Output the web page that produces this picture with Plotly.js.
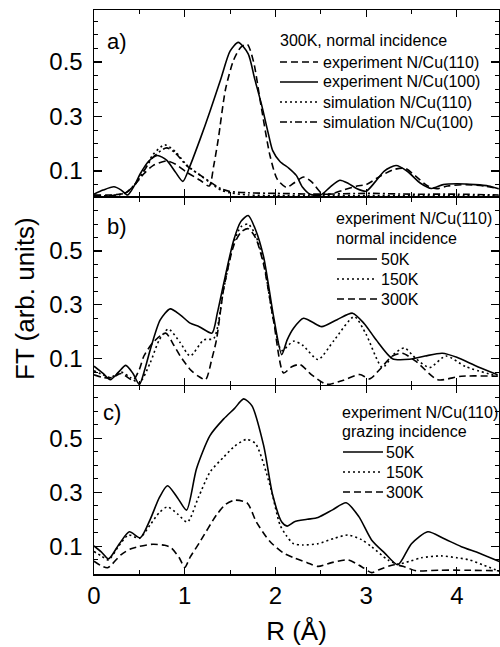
<!DOCTYPE html>
<html><head><meta charset="utf-8">
<script src="https://cdn.plot.ly/plotly-3.0.1.min.js"></script>
<style>html,body{margin:0;padding:0;background:#fff}#chart{width:500px;height:647px}</style>
</head><body><div id="chart"></div>
<script>
// ---------- Panel a) 300K, normal incidence ----------
const aExp110X = [0, 0.2, 0.35, 0.45, 0.55, 0.65, 0.8, 0.9, 1.02, 1.17, 1.27, 1.32, 1.37, 1.45, 1.54, 1.62, 1.69, 1.76, 1.83, 1.94, 2.02, 2.12, 2.2, 2.31, 2.4, 2.51, 2.6, 2.75, 2.9, 3.0, 3.15, 3.3, 3.43, 3.55, 3.68, 3.78, 3.9, 4.1, 4.3, 4.46];
const aExp110Y = [0.012, 0.012, 0.02, 0.05, 0.09, 0.12, 0.137, 0.125, 0.096, 0.066, 0.045, 0.12, 0.217, 0.40, 0.508, 0.555, 0.565, 0.5, 0.363, 0.157, 0.07, 0.04, 0.055, 0.078, 0.06, 0.018, 0.015, 0.03, 0.045, 0.05, 0.08, 0.105, 0.11, 0.08, 0.045, 0.035, 0.045, 0.05, 0.045, 0.035];
const aExp100X = [0, 0.1, 0.22, 0.3, 0.37, 0.45, 0.51, 0.6, 0.7, 0.8, 0.9, 0.98, 1.06, 1.17, 1.28, 1.4, 1.5, 1.59, 1.7, 1.77, 1.85, 1.92, 1.97, 2.05, 2.15, 2.23, 2.3, 2.38, 2.5, 2.6, 2.71, 2.8, 2.9, 3.0, 3.1, 3.2, 3.33, 3.45, 3.6, 3.72, 3.85, 4.0, 4.2, 4.35, 4.46];
const aExp100Y = [0.015, 0.03, 0.042, 0.03, 0.012, 0.05, 0.09, 0.135, 0.157, 0.14, 0.095, 0.062, 0.12, 0.217, 0.32, 0.44, 0.54, 0.572, 0.53, 0.44, 0.34, 0.24, 0.175, 0.135, 0.11, 0.084, 0.04, 0.015, 0.012, 0.04, 0.066, 0.055, 0.035, 0.026, 0.06, 0.1, 0.12, 0.1, 0.055, 0.036, 0.05, 0.053, 0.05, 0.045, 0.035];
const aSim110X = [0, 0.2, 0.35, 0.45, 0.55, 0.65, 0.78, 0.9, 1.02, 1.17, 1.28, 1.4, 1.5, 1.7, 2.0, 2.5, 3.0, 3.5, 4.0, 4.46];
const aSim110Y = [0.01, 0.01, 0.02, 0.05, 0.1, 0.16, 0.196, 0.17, 0.123, 0.084, 0.057, 0.03, 0.02, 0.012, 0.01, 0.01, 0.01, 0.01, 0.01, 0.01];
const aSim100X = [0, 0.2, 0.35, 0.45, 0.55, 0.65, 0.8, 0.9, 1.02, 1.17, 1.28, 1.4, 1.5, 1.7, 2.0, 2.5, 3.0, 3.5, 4.0, 4.46];
const aSim100Y = [0.01, 0.01, 0.02, 0.05, 0.1, 0.15, 0.185, 0.165, 0.12, 0.085, 0.06, 0.035, 0.025, 0.02, 0.018, 0.015, 0.018, 0.015, 0.015, 0.012];

// ---------- Panel b) experiment N/Cu(110), normal incidence ----------
const b50X = [0, 0.1, 0.18, 0.27, 0.35, 0.43, 0.5, 0.56, 0.62, 0.73, 0.84, 0.95, 1.06, 1.16, 1.3, 1.36, 1.43, 1.54, 1.62, 1.70, 1.78, 1.87, 1.98, 2.07, 2.13, 2.2, 2.31, 2.41, 2.51, 2.68, 2.85, 2.98, 3.11, 3.29, 3.48, 3.65, 3.84, 4.0, 4.2, 4.45];
const b50Y = [0.072, 0.045, 0.022, 0.05, 0.075, 0.045, 0.004, 0.06, 0.133, 0.244, 0.285, 0.263, 0.232, 0.219, 0.195, 0.27, 0.38, 0.54, 0.61, 0.632, 0.58, 0.478, 0.256, 0.115, 0.17, 0.213, 0.25, 0.235, 0.219, 0.245, 0.269, 0.23, 0.17, 0.1, 0.098, 0.11, 0.12, 0.105, 0.075, 0.04];
const b150X = [0, 0.1, 0.18, 0.3, 0.4, 0.5, 0.62, 0.72, 0.82, 0.95, 1.06, 1.21, 1.32, 1.43, 1.54, 1.62, 1.70, 1.78, 1.87, 1.98, 2.07, 2.2, 2.3, 2.47, 2.65, 2.87, 3.0, 3.18, 3.3, 3.42, 3.55, 3.7, 3.88, 4.1, 4.45];
const b150Y = [0.055, 0.04, 0.03, 0.05, 0.03, 0.01, 0.085, 0.17, 0.21, 0.16, 0.11, 0.17, 0.175, 0.36, 0.53, 0.59, 0.6, 0.56, 0.46, 0.24, 0.13, 0.165, 0.15, 0.097, 0.17, 0.256, 0.19, 0.067, 0.115, 0.14, 0.1, 0.067, 0.11, 0.07, 0.035];
const b300X = [0, 0.1, 0.2, 0.3, 0.43, 0.5, 0.55, 0.65, 0.79, 0.88, 0.95, 1.06, 1.15, 1.23, 1.3, 1.35, 1.43, 1.54, 1.62, 1.70, 1.78, 1.87, 1.98, 2.09, 2.18, 2.27, 2.4, 2.55, 2.6, 2.75, 2.93, 3.04, 3.15, 3.29, 3.4, 3.55, 3.79, 4.05, 4.45];
const b300Y = [0.04, 0.03, 0.03, 0.045, 0.02, 0.06, 0.11, 0.16, 0.195, 0.15, 0.11, 0.06, 0.035, 0.022, 0.1, 0.17, 0.36, 0.52, 0.57, 0.583, 0.55, 0.45, 0.24, 0.047, 0.07, 0.078, 0.04, 0.006, 0.005, 0.02, 0.041, 0.025, 0.06, 0.11, 0.12, 0.09, 0.022, 0.035, 0.035];

// ---------- Panel c) experiment N/Cu(110), grazing incidence ----------
const c50X = [0, 0.08, 0.16, 0.28, 0.39, 0.51, 0.62, 0.72, 0.81, 0.92, 1.02, 1.13, 1.28, 1.43, 1.55, 1.65, 1.74, 1.87, 1.97, 2.07, 2.13, 2.21, 2.35, 2.47, 2.63, 2.78, 2.92, 3.06, 3.2, 3.35, 3.5, 3.68, 3.85, 4.05, 4.25, 4.47];
const c50Y = [0.102, 0.08, 0.054, 0.11, 0.154, 0.132, 0.2, 0.28, 0.324, 0.28, 0.234, 0.387, 0.51, 0.571, 0.61, 0.645, 0.62, 0.473, 0.29, 0.19, 0.175, 0.191, 0.2, 0.207, 0.235, 0.261, 0.21, 0.124, 0.077, 0.032, 0.11, 0.154, 0.13, 0.099, 0.075, 0.044];
const c150X = [0, 0.08, 0.16, 0.27, 0.38, 0.5, 0.62, 0.72, 0.81, 0.92, 1.03, 1.15, 1.28, 1.43, 1.55, 1.68, 1.78, 1.94, 2.05, 2.12, 2.2, 2.3, 2.47, 2.65, 2.8, 2.95, 3.06, 3.24, 3.35, 3.48, 3.61, 3.83, 4.0, 4.14, 4.3, 4.47];
const c150Y = [0.081, 0.065, 0.05, 0.1, 0.142, 0.13, 0.18, 0.225, 0.246, 0.22, 0.19, 0.28, 0.375, 0.43, 0.47, 0.495, 0.48, 0.326, 0.18, 0.14, 0.11, 0.105, 0.11, 0.13, 0.142, 0.125, 0.099, 0.05, 0.035, 0.045, 0.058, 0.065, 0.058, 0.05, 0.03, 0.008];
const c300X = [0, 0.07, 0.15, 0.3, 0.4, 0.5, 0.65, 0.78, 0.85, 0.94, 1.0, 1.06, 1.17, 1.35, 1.45, 1.55, 1.69, 1.79, 1.94, 2.09, 2.21, 2.35, 2.47, 2.62, 2.8, 2.95, 3.06, 3.15, 3.31, 3.42, 3.55, 3.8, 4.1, 4.47];
const c300Y = [0.045, 0.03, 0.021, 0.07, 0.09, 0.1, 0.108, 0.104, 0.095, 0.058, 0.022, 0.06, 0.118, 0.216, 0.255, 0.271, 0.26, 0.19, 0.118, 0.075, 0.057, 0.04, 0.026, 0.04, 0.05, 0.025, 0.003, 0.015, 0.032, 0.025, 0.01, 0.012, 0.012, 0.01];

const legendA = ['experiment N/Cu(110)', 'experiment N/Cu(100)', 'simulation N/Cu(110)', 'simulation N/Cu(100)'];
const legendTemps = ['50K', '150K', '300K'];
const yTickVals = [0.1, 0.3, 0.5];
const xTickVals = [0, 1, 2, 3, 4];

const FONT = '"Liberation Sans", Arial, sans-serif';
const SOLID = 'solid', DASH = '7px,4px', DOT = '2px,3px', DASHDOT = '7px,3px,2px,3px';

// pixel -> paper helpers (plot area: x 94..499, y 10..574)
const L = 94, R = 1, T = 10, B = 73, W = 500, H = 647;
const PW = W - L - R, PH = H - T - B;
const px = p => (p - L) / PW;
const py = p => 1 - (p - T) / PH;

function tr(x, y, dash, xa, ya, name) {
  return {type: 'scatter', mode: 'lines', x: x, y: y, xaxis: xa, yaxis: ya, name: name,
    showlegend: false, hoverinfo: 'skip',
    line: {color: '#000', width: 1.6, dash: dash, shape: 'spline', smoothing: 0.7}};
}

const data = [
  tr(aExp110X, aExp110Y, DASH, 'x3', 'y3', legendA[0]),
  tr(aExp100X, aExp100Y, SOLID, 'x3', 'y3', legendA[1]),
  tr(aSim110X, aSim110Y, DOT, 'x3', 'y3', legendA[2]),
  tr(aSim100X, aSim100Y, DASHDOT, 'x3', 'y3', legendA[3]),
  tr(b50X, b50Y, SOLID, 'x2', 'y2', legendTemps[0]),
  tr(b150X, b150Y, DOT, 'x2', 'y2', legendTemps[1]),
  tr(b300X, b300Y, DASH, 'x2', 'y2', legendTemps[2]),
  tr(c50X, c50Y, SOLID, 'x', 'y', legendTemps[0]),
  tr(c150X, c150Y, DOT, 'x', 'y', legendTemps[1]),
  tr(c300X, c300Y, DASH, 'x', 'y', legendTemps[2])
];

// small gap (= axis line width) so that the shared borders coincide
const LW = 1.5, g = (LW / 2) / PH;
const dC = [0, 0.3339 - g], dB = [0.3339 + g, 0.6685 - g], dA = [0.6685 + g, 1];

function xax(anchor, labels) {
  return {anchor: anchor, domain: [0, 1], range: [0, 4.465], showline: true, linecolor: '#000', linewidth: LW,
    mirror: 'ticks', ticks: 'inside', ticklen: 7, tickwidth: 1.2, tickcolor: '#000',
    tickmode: 'array', tickvals: xTickVals, showticklabels: labels, showgrid: false, zeroline: false,
    minor: {ticks: 'inside', dtick: 0.5, tick0: 0, ticklen: 4, tickwidth: 1, tickcolor: '#000', showgrid: false},
    tickfont: {family: FONT, size: 24, color: '#000'}, ticklabelstandoff: 0};
}
function yax(anchor, domain, range) {
  return {anchor: anchor, domain: domain, range: range, showline: true, linecolor: '#000', linewidth: LW,
    mirror: 'ticks', ticks: 'inside', ticklen: 8, tickwidth: 1.2, tickcolor: '#000',
    tickmode: 'array', tickvals: yTickVals, showgrid: false, zeroline: false,
    minor: {ticks: 'inside', dtick: 0.05, tick0: 0, ticklen: 4, tickwidth: 1, tickcolor: '#000', showgrid: false},
    tickfont: {family: FONT, size: 24, color: '#000'}, ticklabelstandoff: 5};
}

const ann = [];
const shapes = [];
const LF = 16;
function txt(text, x, y, size, extra) {
  ann.push(Object.assign({text: text, xref: 'paper', yref: 'paper', x: px(x), y: py(y),
    xanchor: 'left', yanchor: 'middle', showarrow: false,
    font: {family: FONT, size: size, color: '#000'}}, extra || {}));
}
function sample(x0, x1, y, dash) {
  shapes.push({type: 'line', xref: 'paper', yref: 'paper', x0: px(x0), x1: px(x1), y0: py(y), y1: py(y),
    line: {color: '#000', width: 1.5, dash: dash}});
}

// panel labels
txt('a)', 105, 42, 22);
txt('b)', 105, 226, 22);
txt('c)', 101, 413, 22);

// legend a
txt('300K, normal incidence', 278, 40, LF);
const aDashes = [DASH, SOLID, DOT, DASHDOT];
[62, 82, 102, 122].forEach((yy, i) => { sample(280, 318, yy, aDashes[i]); txt(legendA[i], 321, yy, LF); });

// legend b
txt('experiment N/Cu(110)', 334, 218, LF);
txt('normal incidence', 334, 238, LF);
const tDashes = [SOLID, DOT, DASH];
[259, 279, 299].forEach((yy, i) => { sample(337, 377, yy, tDashes[i]); txt(legendTemps[i], 379, yy, LF); });

// legend c
txt('experiment N/Cu(110)', 340, 412, LF);
txt('grazing incidence', 340, 431, LF);
[452, 472, 492].forEach((yy, i) => { sample(343, 383, yy, tDashes[i]); txt(legendTemps[i], 384, yy, LF); });

// y title
ann.push({text: 'FT (arb. units)', xref: 'paper', yref: 'paper', x: px(25), y: py(299), textangle: -90,
  xanchor: 'center', yanchor: 'middle', showarrow: false, font: {family: FONT, size: 26, color: '#000'}});

const layout = {
  width: W, height: H, margin: {l: L, r: R, t: T, b: B}, paper_bgcolor: '#fff', plot_bgcolor: '#fff',
  showlegend: false,
  xaxis: Object.assign(xax('y', true), {title: {text: 'R (Å)', font: {family: FONT, size: 26, color: '#000'}, standoff: 13}}),
  xaxis2: xax('y2', false),
  xaxis3: xax('y3', false),
  yaxis: yax('x', dC, [-0.002, 0.691]),
  yaxis2: yax('x2', dB, [0.0025, 0.698]),
  yaxis3: yax('x3', dA, [0.0075, 0.691]),
  annotations: ann, shapes: shapes
};

Plotly.newPlot('chart', data, layout, {displayModeBar: false, staticPlot: true});
</script></body></html>
